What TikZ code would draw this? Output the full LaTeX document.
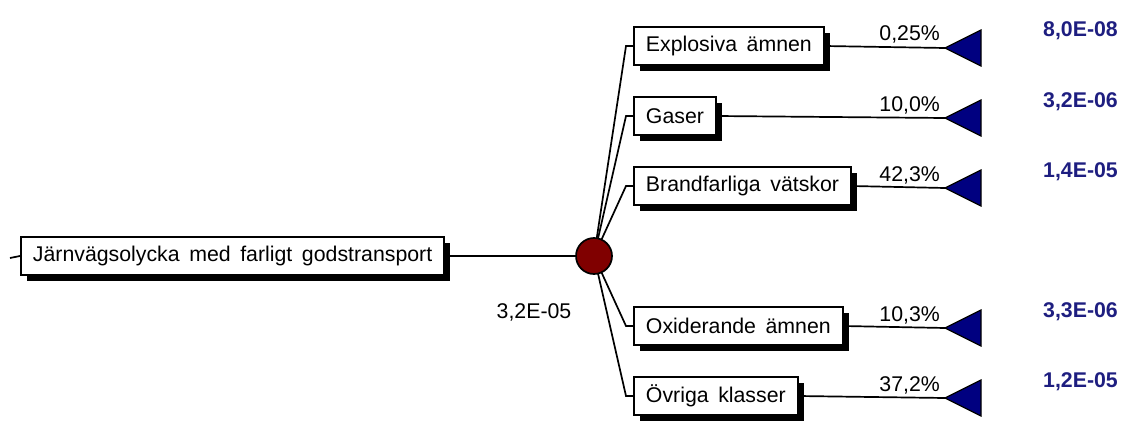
\documentclass[tikz,border=0pt]{standalone}
\usepackage{fontspec}
\setmainfont{Liberation Sans}
\usetikzlibrary{shadows,backgrounds}
\definecolor{valblue}{RGB}{30,30,128}
\definecolor{chancered}{RGB}{128,0,0}
\definecolor{termfill}{RGB}{0,0,128}
\newcommand\widegaps{\spaceskip=0.45em\relax}
\begin{document}
\begin{tikzpicture}[x=1pt,y=-1pt,
  font=\fontsize{21.3}{25}\selectfont,
  box/.style={draw, line width=1.9pt, fill=white, rectangle, minimum height=38pt,
    inner xsep=12pt, anchor=west,
    execute at begin node=\widegaps,
    drop shadow={shadow xshift=6pt, shadow yshift=-6pt, fill=black, opacity=1}},
  wire/.style={line width=1.7pt},
  term/.style={draw, line width=1.2pt, fill=termfill, line join=miter},
  pct/.style={anchor=base east, inner sep=0pt},
  val/.style={anchor=base east, inner sep=0pt, text=valblue,
    font=\fontsize{21.3}{25}\selectfont\bfseries},
  chance/.style={circle, draw, line width=1.7pt, fill=chancered,
    minimum size=36pt, inner sep=0pt}]
\useasboundingbox (0,0) rectangle (1124,428);

% root event and chance node
\node[box] (root) at (20,256) {Järnvägsolycka med farligt godstransport};
\coordinate (rt) at (10,258);
\draw[wire] (rt) -- (root.west);
\node[chance] (c) at (594,256) {};
\draw[wire] (root.east) -- (c.west);
\node (p) at (534,312) {3,2E-05};

% branches
\foreach \i/\y/\name/\pc/\v in {
  1/46/{Explosiva ämnen}/{0,25\%}/{8,0E-08},
  2/116/{Gaser}/{10,0\%}/{3,2E-06},
  3/186/{Brandfarliga vätskor}/{42,3\%}/{1,4E-05},
  4/326/{Oxiderande ämnen}/{10,3\%}/{3,3E-06},
  5/396/{Övriga klasser}/{37,2\%}/{1,2E-05}}{
  \node[box] (b\i) at (633,\y) {\name};
  \coordinate (k\i) at (626,\y);
  \coordinate (t\i) at (945,\y+2);
  \begin{pgfonlayer}{background}
    \draw[wire] (c.center) -- (k\i) -- (b\i.west);
  \end{pgfonlayer}
  \draw[wire] (b\i.east) -- (t\i);
  \draw[term] (t\i) -- ++(36,-18) -- ++(0,36) -- cycle;
  \node[pct] (q\i) at (940,\y-5) {\pc};
  \node[val] (v\i) at (1118,\y-9) {\v};
}
\end{tikzpicture}
\end{document}
